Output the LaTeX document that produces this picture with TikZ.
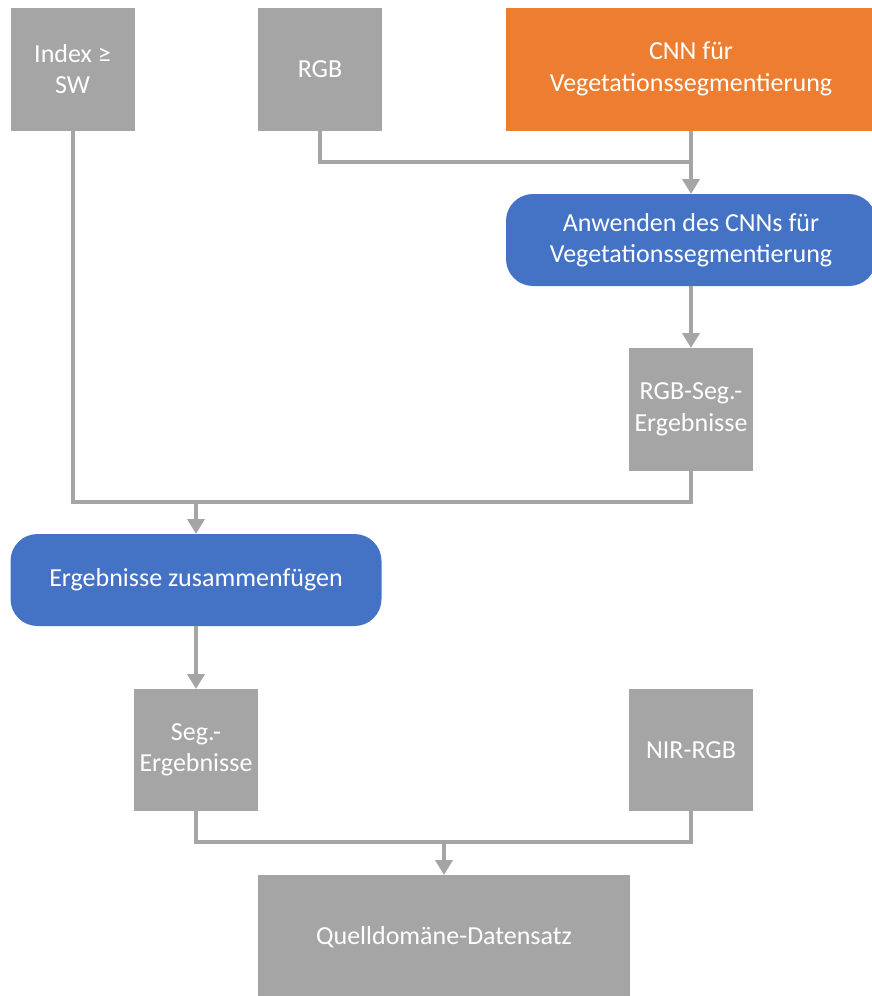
\documentclass[tikz,border=0pt]{standalone}
\usepackage{fontspec}
\setmainfont{Carlito}
\usetikzlibrary{arrows.meta}
\definecolor{boxgray}{HTML}{A5A5A5}
\definecolor{boxorange}{HTML}{ED7D31}
\definecolor{boxblue}{HTML}{4472C4}
\begin{document}
\begin{tikzpicture}[x=1pt,y=-1pt,
  every node/.style={inner sep=0pt,outer sep=0pt,align=center,text=white,
    font=\fontsize{26}{31.5}\selectfont},
  databox/.style={fill=boxgray,minimum width=124pt,minimum height=123pt},
  modelbox/.style={fill=boxorange,minimum width=370pt,minimum height=123pt},
  procbox/.style={fill=boxblue,rounded corners=27pt,minimum height=92pt},
  conn/.style={draw=boxgray,line width=4pt},
  arr/.style={conn,-{Triangle[width=17pt,length=15pt]}}]
\useasboundingbox (0,0) rectangle (871,996);
\fill[white] (0,0) rectangle (871,996);

% inputs
\node[databox] (idx) at (72.5,69) {Index ≥\\SW};
\node[databox] (rgb) at (320,69) {RGB};
\node[modelbox] (cnn) at (691,69) {CNN für\\Vegetationssegmentierung};

% vegetation segmentation
\node[procbox,minimum width=370pt] (apply) at (691,240) {Anwenden des CNNs für\\Vegetationssegmentierung};
\node[databox] (rgbseg) at (691,409.5) {RGB-Seg.-\\Ergebnisse};

% merging
\node[procbox,minimum width=371pt] (merge) at (196,580) {Ergebnisse zusammenfügen};
\node[databox,minimum height=122pt] (seg) at (196,750) {Seg.-\\Ergebnisse};
\node[databox,minimum height=122pt] (nir) at (691,750) {NIR-RGB};
\node[databox,minimum width=372pt,minimum height=125pt] (src) at (444,937.5) {Quelldomäne-Datensatz};

% junction points
\coordinate (j1) at (691,162);
\coordinate (j2) at (196,502);
\coordinate (j3) at (444,842);

% connectors
\draw[conn] (rgb.south) |- (j1);
\draw[conn] (cnn.south) -- (j1);
\draw[arr] (j1) -- (apply.north);
\draw[arr] (apply.south) -- (rgbseg.north);
\draw[conn] (idx.south) |- (j2);
\draw[conn] (rgbseg.south) |- (j2);
\draw[arr] (j2) -- (merge.north);
\draw[arr] (merge.south) -- (seg.north);
\draw[conn] (seg.south) |- (j3);
\draw[conn] (nir.south) |- (j3);
\draw[arr] (j3) -- (src.north);
\end{tikzpicture}
\end{document}
